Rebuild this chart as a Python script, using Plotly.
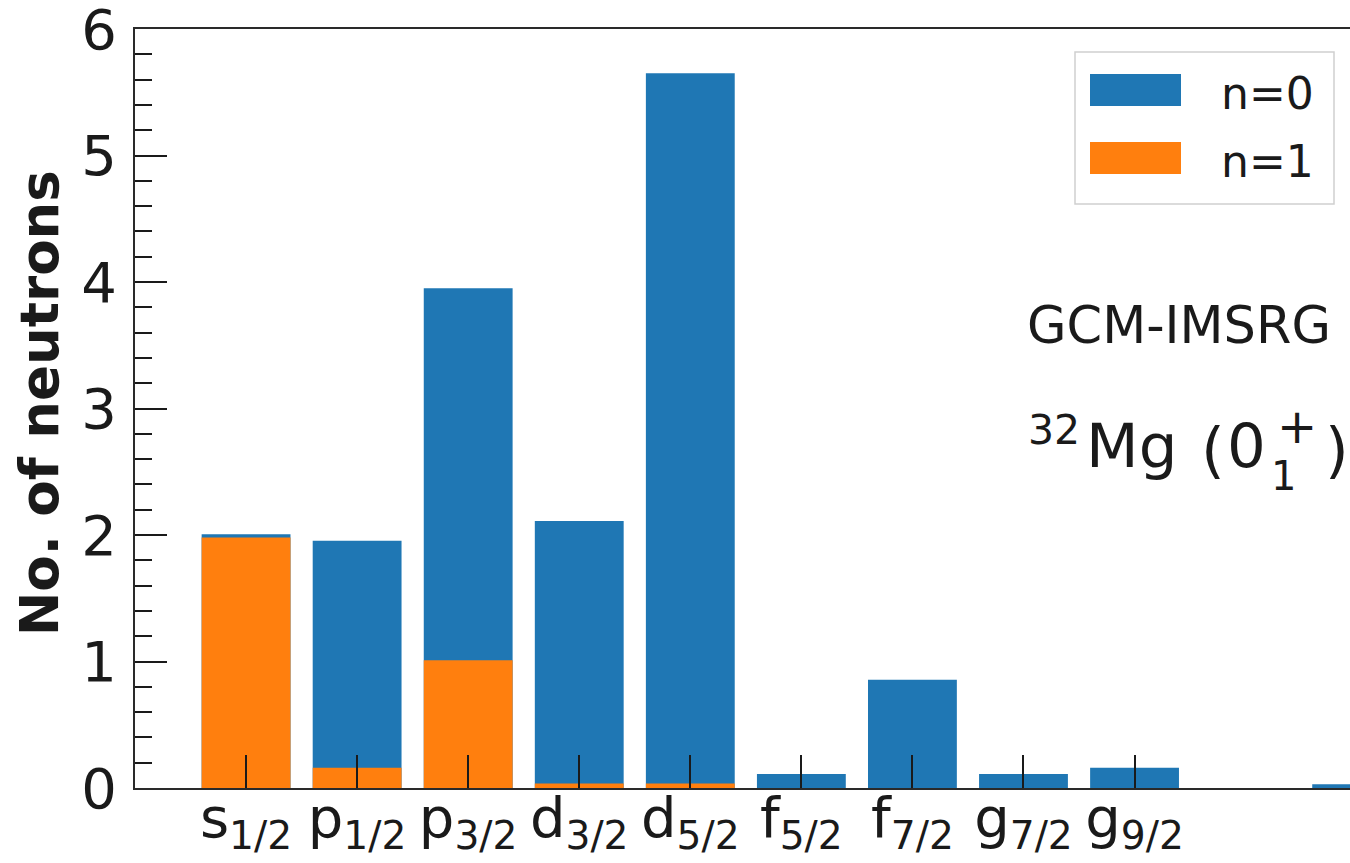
import plotly.graph_objects as go

# Orbital labels (only the first nine carry tick labels)
orbitals = ["s<sub>1/2</sub>", "p<sub>1/2</sub>", "p<sub>3/2</sub>", "d<sub>3/2</sub>",
            "d<sub>5/2</sub>", "f<sub>5/2</sub>", "f<sub>7/2</sub>", "g<sub>7/2</sub>",
            "g<sub>9/2</sub>"]
positions = [0, 1, 2, 3, 4, 5, 6, 7, 8, 9, 10]

# Occupation numbers per orbital
n0_values = [2.005, 1.955, 3.95, 2.11, 5.65, 0.11, 0.855, 0.11, 0.16, 0.0, 0.03]
n1_values = [1.98, 0.16, 1.01, 0.035, 0.035, 0.0, 0.0, 0.0, 0.0, 0.0, 0.0]

BLUE = "#1f77b4"
ORANGE = "#ff7f0e"
FONT = "DejaVu Sans"
INK = "#1a1a1a"
W, H = 1350, 863
L, R, T, B = 135, 0, 29, 75


def px(x):
    return (x - L) / (W - L - R)


def py(y):
    return (H - B - y) / (H - T - B)


def label(text, x, y, size, xanchor="left"):
    fig.add_annotation(text=text, xref="paper", yref="paper", x=px(x), y=py(y),
                       xanchor=xanchor, yanchor="middle", showarrow=False,
                       font=dict(size=size, family=FONT, color=INK))


fig = go.Figure()
fig.add_trace(go.Bar(x=positions, y=n0_values, width=0.8, name="n=0",
                     marker=dict(color=BLUE, line=dict(width=0))))
fig.add_trace(go.Bar(x=positions, y=n1_values, width=0.8, name="n=1",
                     marker=dict(color=ORANGE, line=dict(width=0))))

fig.update_layout(
    width=W, height=H,
    margin=dict(l=L, r=R, t=T, b=B, pad=0, autoexpand=False),
    barmode="overlay",
    showlegend=False,
    plot_bgcolor="white",
    paper_bgcolor="white",
    font=dict(family=FONT, color=INK),
)

fig.update_xaxes(
    range=[-1.0, 9.94], automargin=False,
    tickmode="array", tickvals=list(range(len(orbitals))), ticktext=orbitals,
    ticks="inside", ticklen=33, tickwidth=2, tickcolor=INK,
    tickfont=dict(size=56, family=FONT, color=INK),
    ticklabeloverflow="allow", ticklabelstandoff=-20,
    showline=True, linecolor="#2a2a2a", linewidth=2, mirror=True,
    showgrid=False, zeroline=False,
)
fig.update_yaxes(
    range=[0, 6], automargin=False,
    tickmode="linear", tick0=0, dtick=1,
    ticks="inside", ticklen=32, tickwidth=2, tickcolor=INK,
    tickfont=dict(size=56, family=FONT, color=INK),
    ticklabeloverflow="allow", ticklabelstandoff=5,
    minor=dict(dtick=0.2, ticks="inside", ticklen=17, tickwidth=2, tickcolor=INK),
    showline=True, linecolor="#2a2a2a", linewidth=2,
    showgrid=False, zeroline=False,
)

# Axis title
fig.add_annotation(text="<b>No. of neutrons</b>", textangle=-90,
                   xref="paper", yref="paper", x=px(39), y=py(403),
                   xanchor="center", yanchor="middle", showarrow=False,
                   font=dict(size=53, family=FONT, color=INK))

# Legend box
fig.add_shape(type="rect", xref="paper", yref="paper",
              x0=px(1075), x1=px(1334), y0=py(204), y1=py(52),
              line=dict(color="#d0d0d0", width=1.5), fillcolor="rgba(255,255,255,0.85)")
fig.add_shape(type="rect", xref="paper", yref="paper",
              x0=px(1090), x1=px(1181), y0=py(106), y1=py(74),
              line=dict(width=0), fillcolor=BLUE)
fig.add_shape(type="rect", xref="paper", yref="paper",
              x0=px(1090), x1=px(1181), y0=py(174), y1=py(142),
              line=dict(width=0), fillcolor=ORANGE)
label("n=0", 1219, 94, 44)
label("n=1", 1219, 162, 44)

# Method and nucleus labels
label("GCM-IMSRG", 1025, 326, 51)
label("32", 1026, 430, 41)
label("Mg", 1084, 446, 61)
label("(", 1199, 449, 61)
label("0", 1246, 446, 61, xanchor="center")
label("+", 1297, 426, 48, xanchor="center")
label("1", 1283, 476, 40, xanchor="center")
label(")", 1337, 449, 61, xanchor="center")

fig.write_html("out.html")
